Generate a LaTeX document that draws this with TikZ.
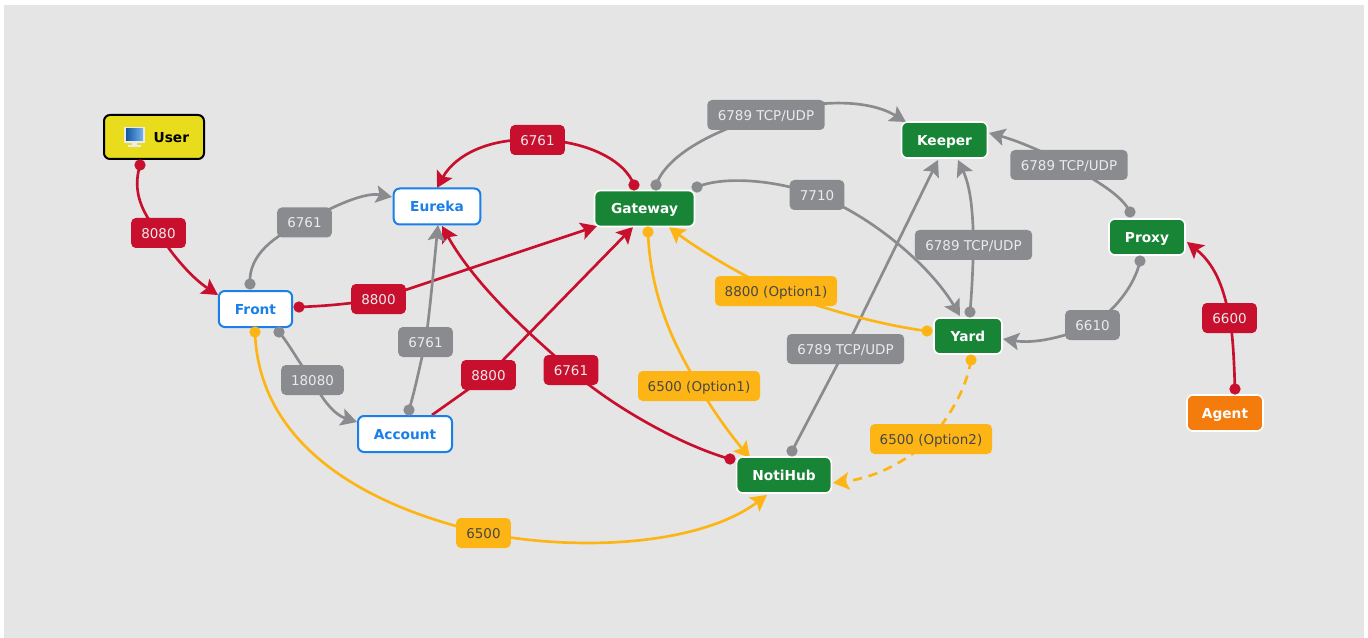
\documentclass[tikz,border=0pt]{standalone}
\usepackage{fontspec}
\setmainfont{DejaVu Sans}
\usetikzlibrary{arrows.meta,backgrounds,calc}
\definecolor{cred}{HTML}{C8102E}
\definecolor{cgray}{HTML}{8A8B8E}
\definecolor{cyel}{HTML}{FDB515}
\definecolor{cgreen}{HTML}{178535}
\definecolor{corange}{HTML}{F47C0C}
\definecolor{cblue}{HTML}{1A7FE8}
\definecolor{cbg}{HTML}{E5E5E5}
\definecolor{cyellow}{HTML}{E8DC1C}
\tikzset{
  x=0.75pt,y=-0.75pt,
  box/.style={rounded corners=4.5pt,minimum height=27pt,font=\bfseries\fontsize{10.3}{12}\selectfont,inner sep=0pt,text height=8.8pt,text depth=0.9pt},
  greenbox/.style={box,fill=cgreen,draw=white,line width=1.2pt,text=white},
  bluebox/.style={box,fill=white,draw=cblue,line width=1.5pt,text=cblue},
  lbl/.style={rounded corners=3.5pt,minimum height=22.5pt,inner sep=0pt,font=\fontsize{10.1}{12}\selectfont,text height=8.8pt,text depth=0.9pt},
  redl/.style={lbl,fill=cred,text=white!92!black},
  grayl/.style={lbl,fill=cgray,text=white!92!black},
  yell/.style={lbl,fill=cyel,text=black!72},
  dotn/.style={circle,inner sep=0pt,minimum size=8.5pt},
  conn/.style={line width=2pt,-{Stealth[length=12pt,width=13pt,inset=2.4pt]}},
  plain/.style={line width=2pt},
}
\begin{document}
\begin{tikzpicture}
\useasboundingbox (0,0) rectangle (1368,638);
% nodes
\node[box,fill=cyellow,draw=black,line width=1.5pt,minimum width=75pt,text=black,minimum height=33pt] (user) at (154,137) {\hspace*{26pt}User};
\node[bluebox,minimum width=55pt] (front) at (255.5,309) {Front};
\node[bluebox,minimum width=65pt] (eureka) at (437,206.5) {Eureka};
\node[bluebox,minimum width=70.5pt] (account) at (405,434) {Account};
\node[greenbox,minimum width=75pt] (gateway) at (644.5,208.5) {Gateway};
\node[greenbox,minimum width=64.5pt] (keeper) at (944.5,140) {Keeper};
\node[greenbox,minimum width=57pt] (proxy) at (1147,237) {Proxy};
\node[greenbox,minimum width=51pt] (yard) at (968,336) {Yard};
\node[greenbox,minimum width=71pt] (notihub) at (784,475) {NotiHub};
\node[box,fill=corange,draw=white,line width=1.2pt,text=white,minimum width=57pt] (agent) at (1225,413) {Agent};
% icon
\fill[white!85!gray] (124,127) rectangle (145,143);
\shade[left color=cblue!70!black,right color=cblue!60!white] (126,129) rectangle (143,141);
\fill[white!85!gray] (132,143) rectangle (137,145);
\fill[white!85!gray] (128,145) rectangle (141,147);
% labels
\node[redl,minimum width=41pt] (l8080) at (158.5,233) {8080};
\node[grayl,minimum width=41pt] (l6761a) at (304.5,222.5) {6761};
\node[redl,minimum width=41pt] (l8800a) at (378.5,299) {8800};
\node[grayl,minimum width=41pt] (l6761b) at (425.5,342) {6761};
\node[grayl,minimum width=47pt] (l18080) at (312.5,380) {18080};
\node[redl,minimum width=41pt] (l8800b) at (488.5,375) {8800};
\node[redl,minimum width=41pt] (l6761c) at (571,370) {6761};
\node[redl,minimum width=41pt] (l6761d) at (537.5,140) {6761};
\node[yell,minimum width=41pt] (l6500) at (483.5,533) {6500};
\node[yell,minimum width=91.5pt] (l6500o1) at (699,386) {6500 (Option1)};
\node[yell,minimum width=91.5pt] (l8800o1) at (776,291) {8800 (Option1)};
\node[yell,minimum width=91.5pt] (l6500o2) at (931,439) {6500 (Option2)};
\node[grayl,minimum width=88pt] (ltcpa) at (766,115) {6789 TCP/UDP};
\node[grayl,minimum width=41pt] (l7710) at (817,195) {7710};
\node[grayl,minimum width=88pt] (ltcpb) at (973.5,245) {6789 TCP/UDP};
\node[grayl,minimum width=88pt] (ltcpc) at (1069,165) {6789 TCP/UDP};
\node[grayl,minimum width=88pt] (ltcpd) at (845.5,349) {6789 TCP/UDP};
\node[grayl,minimum width=41pt] (l6610) at (1092.5,325) {6610};
\node[redl,minimum width=41pt] (l6600) at (1229.5,318) {6600};
% dots
\node[dotn,fill=cred] (d1) at (140,165) {};
\node[dotn,fill=cgray] (d2) at (250,284) {};
\node[dotn,fill=cred] (d3) at (299,307) {};
\node[dotn,fill=cgray] (d4) at (279,332) {};
\node[dotn,fill=cyel] (d5) at (255,332) {};
\node[dotn,fill=cgray] (d6) at (409,410) {};
\node[dotn,fill=cred] (d7) at (730,459) {};
\node[dotn,fill=cred] (d8) at (634,185) {};
\node[dotn,fill=cgray] (d9) at (656,185) {};
\node[dotn,fill=cgray] (d10) at (697,187) {};
\node[dotn,fill=cyel] (d11) at (648,232) {};
\node[dotn,fill=cyel] (d12) at (927,331) {};
\node[dotn,fill=cgray] (d13) at (970,312) {};
\node[dotn,fill=cgray] (d14) at (792,451) {};
\node[dotn,fill=cgray] (d15) at (1130,212) {};
\node[dotn,fill=cgray] (d16) at (1140,261) {};
\node[dotn,fill=cred] (d17) at (1235,389) {};
\node[dotn,fill=cyel] (d18) at (971,360) {};
% tips
\coordinate (t1) at (218,295);
\coordinate (t2) at (392,197);
\coordinate (t3) at (597,226);
\coordinate (t4) at (357,422);
\coordinate (t5) at (767,495);
\coordinate (t6) at (438,225);
\coordinate (t7) at (633,227);
\coordinate (t8) at (442,226);
\coordinate (t9) at (437,188);
\coordinate (t10) at (906,122);
\coordinate (t11) at (960,316);
\coordinate (t12) at (750,458);
\coordinate (t13) at (669,227);
\coordinate (t14) at (958,160);
\coordinate (t15) at (938,160);
\coordinate (t16) at (989,133);
\coordinate (t17) at (1003,339);
\coordinate (t18) at (1187,242);
\coordinate (t19) at (833,483);
\coordinate (s7) at (432,415);
\begin{scope}[on background layer]
\fill[cbg] (4,5) rectangle (1364,638);
% red
\begin{scope}[cred]
\draw[plain] (d1.center) .. controls (132,192) and (142,212) .. (l8080.center);
\draw[conn] (l8080.center) .. controls (172,255) and (192,278) .. (t1);
\draw[plain] (d3.center) .. controls (325,306) and (350,304) .. (l8800a.center);
\draw[conn] (l8800a.center) -- (t3);
\draw[plain] (s7) -- (l8800b.center);
\draw[conn] (l8800b.center) -- (t7);
\draw[plain] (d7.center) .. controls (680,445) and (610,405) .. (l6761c.center);
\draw[conn] (l6761c.center) .. controls (530,335) and (475,285) .. (t8);
\draw[plain] (d8.center) .. controls (625,160) and (585,140) .. (l6761d.center);
\draw[conn] (l6761d.center) .. controls (490,137) and (455,155) .. (t9);
\draw[plain] (d17.center) .. controls (1234,360) and (1233,335) .. (l6600.center);
\draw[conn] (l6600.center) .. controls (1225,295) and (1218,267) .. (t18);
\end{scope}
% gray
\begin{scope}[cgray]
\draw[plain] (d2.center) .. controls (248,255) and (275,235) .. (l6761a.center);
\draw[conn] (l6761a.center) .. controls (335,205) and (365,192) .. (t2);
\draw[plain] (d4.center) .. controls (290,345) and (300,365) .. (l18080.center);
\draw[conn] (l18080.center) .. controls (322,400) and (335,415) .. (t4);
\draw[plain] (d6.center) .. controls (415,390) and (420,365) .. (l6761b.center);
\draw[conn] (l6761b.center) .. controls (430,310) and (434,265) .. (t6);
\draw[plain] (d9.center) .. controls (665,160) and (700,135) .. (ltcpa.center);
\draw[conn] (ltcpa.center) .. controls (820,98) and (870,100) .. (t10);
\draw[plain] (d10.center) .. controls (720,177) and (770,178) .. (l7710.center);
\draw[conn] (l7710.center) .. controls (870,215) and (930,265) .. (t11);
\draw[plain] (d13.center) .. controls (972,290) and (973,265) .. (ltcpb.center);
\draw[conn] (ltcpb.center) .. controls (973,220) and (972,190) .. (t14);
\draw[plain] (d14.center) -- (ltcpd.center);
\draw[conn] (ltcpd.center) -- (t15);
\draw[plain] (d15.center) .. controls (1122,195) and (1095,180) .. (ltcpc.center);
\draw[conn] (ltcpc.center) .. controls (1040,150) and (1015,140) .. (t16);
\draw[plain] (d16.center) .. controls (1135,285) and (1115,310) .. (l6610.center);
\draw[conn] (l6610.center) .. controls (1065,337) and (1035,344) .. (t17);
\end{scope}
% yellow
\begin{scope}[cyel]
\draw[plain] (d5.center) .. controls (258,430) and (340,500) .. (l6500.center);
\draw[conn] (l6500.center) .. controls (580,552) and (700,545) .. (t5);
\draw[plain] (d11.center) .. controls (650,290) and (670,340) .. (l6500o1.center);
\draw[conn] (l6500o1.center) .. controls (715,415) and (735,440) .. (t12);
\draw[plain] (d12.center) .. controls (880,325) and (820,308) .. (l8800o1.center);
\draw[conn] (l8800o1.center) .. controls (735,272) and (695,247) .. (t13);
\draw[plain,dash pattern=on 7pt off 5pt] (d18.center) .. controls (966,390) and (950,415) .. (l6500o2.center);
\draw[conn,dash pattern=on 7pt off 5pt] (l6500o2.center) .. controls (910,458) and (880,477) .. (t19);
\end{scope}
\end{scope}
\end{tikzpicture}
\end{document}
